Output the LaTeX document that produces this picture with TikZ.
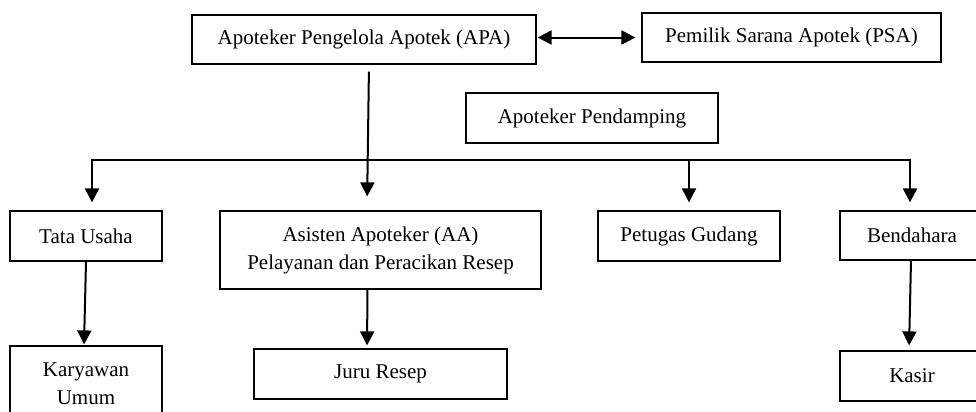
\documentclass[tikz,border=0pt]{standalone}
\usepackage{fontspec}
\setmainfont{Liberation Serif}
\usetikzlibrary{arrows.meta,positioning}
\tikzset{>={Triangle[length=7pt,width=7pt]}}
\tikzset{org node/.style={draw,rectangle,line width=0.6pt,inner sep=0pt,align=center,
            font=\fontsize{10.5}{14}\selectfont},
         link/.style={line width=1pt},
            }

\begin{document}
\begin{tikzpicture}[x=0.5pt,y=-0.5pt]
    \useasboundingbox (0,0) rectangle (976,412);

    \node[org node,minimum width=172pt,minimum height=24.5pt] (apa) at (364,39.5) {Apoteker Pengelola Apotek (APA)};
    \node[org node,minimum width=149.5pt,minimum height=24.5pt] (psa) at (791.5,37.5) {Pemilik Sarana Apotek (PSA)};
    \node[org node,minimum width=126pt,minimum height=25pt] (pend) at (592,118) {Apoteker Pendamping};

    \node[org node,minimum width=76pt,minimum height=25pt] (tata) at (86,236) {Tata Usaha};
    \node[org node,minimum width=160.5pt,minimum height=39pt] (aa) at (380.5,250) {Asisten Apoteker (AA)\\Pelayanan dan Peracikan Resep};
    \node[org node,minimum width=91pt,minimum height=25pt] (gudang) at (689,236) {Petugas Gudang};
    \node[org node,minimum width=72pt,minimum height=24.5pt] (bend) at (912,235.5) {Bendahara};

    \node[org node,minimum width=76pt,minimum height=38pt] (kary) at (86,384) {Karyawan\\Umum};
    \node[org node,minimum width=126.5pt,minimum height=25pt] (juru) at (380.5,374) {Juru Resep};
    \node[org node,minimum width=72pt,minimum height=25pt] (kasir) at (912,376) {Kasir};

    \coordinate (busL) at (92,160);
    \coordinate (busR) at (910,160);

    \draw[link,<->,shorten <=0.5pt,shorten >=3pt] (apa.east |- psa.west) -- (psa.west);
    \draw[link,->,shorten <=3.5pt,shorten >=7pt] ([xshift=2.5pt]apa.south) -- ([xshift=-6.75pt]aa.north);

    \draw[link,<->,shorten <=4pt,shorten >=4pt] (busL |- tata.north) -- (busL) -- (busR) -- (busR |- bend.north);
    \draw[link,->,shorten >=4pt] (gudang.north |- busL) -- (gudang.north);

    \draw[link,->,shorten >=0.5pt] (tata.south) -- ([xshift=-1pt]kary.north);
    \draw[link,->,shorten >=1.5pt] ([xshift=-6.5pt]aa.south) -- ([xshift=-6.75pt]juru.north);
    \draw[link,->,shorten >=2.5pt] ([xshift=-0.5pt]bend.south) -- ([xshift=-1.5pt]kasir.north);

\end{tikzpicture}
\end{document}
